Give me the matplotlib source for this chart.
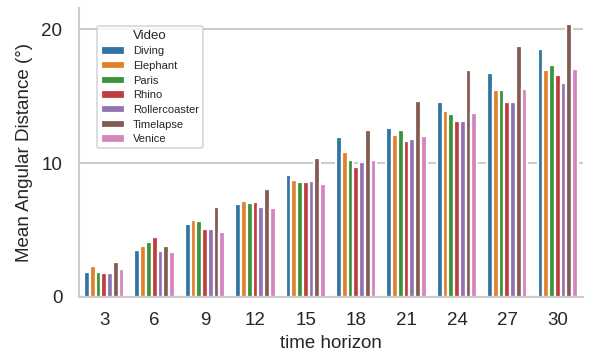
import matplotlib
matplotlib.use("Agg")
import matplotlib.pyplot as plt
import numpy as np

plt.rcParams['font.family'] = ['Liberation Sans', 'DejaVu Sans']

horizons = ["3", "6", "9", "12", "15", "18", "21", "24", "27", "30"]
videos = ["Diving", "Elephant", "Paris", "Rhino", "Rollercoaster", "Timelapse", "Venice"]

diving       = [1.89, 3.48, 5.45, 6.94, 9.13, 11.94, 12.63, 14.55, 16.75, 18.56]
elephant     = [2.30, 3.79, 5.75, 7.15, 8.70, 10.84, 12.09, 13.90, 15.43, 16.92]
paris        = [1.89, 4.10, 5.65, 6.98, 8.58, 10.20, 12.49, 13.69, 15.43, 17.30]
rhino        = [1.79, 4.46, 5.10, 7.08, 8.56, 9.70, 11.64, 13.18, 14.58, 16.60]
rollercoaster= [1.82, 3.46, 5.07, 6.75, 8.63, 10.07, 11.77, 13.18, 14.58, 15.95]
timelapse    = [2.59, 3.83, 6.74, 8.09, 10.40, 12.44, 14.65, 16.94, 18.78, 20.40]
venice       = [2.09, 3.38, 4.87, 6.66, 8.41, 10.20, 12.00, 13.76, 15.50, 17.05]

series = [diving, elephant, paris, rhino, rollercoaster, timelapse, venice]
colors = ['#3274a1', '#e1812c', '#3a923a', '#c03d3e', '#9372b2', '#845b53', '#d684bd']

fig = plt.figure(figsize=(5.9, 3.56), dpi=100)
ax = fig.add_axes([0.134, 0.166, 0.854, 0.812])

x = np.arange(len(horizons))
n = len(videos)
total = 0.8
w = total / n
for i, (name, vals, c) in enumerate(zip(videos, series, colors)):
    ax.bar(x - total / 2 + w * (i + 0.5), vals, width=w, color=c,
           edgecolor='white', linewidth=1.6, label=name, zorder=2)

ax.set_xlim(-0.5, len(horizons) - 0.5)
ax.set_ylim(0, 21.6)
ax.set_xticks(x)
ax.set_xticklabels(horizons)
ax.set_yticks([0, 10, 20])

ax.yaxis.grid(True, color='#cccccc', linewidth=1.5, zorder=0)
ax.xaxis.grid(False)
ax.set_axisbelow(True)
for s in ['top', 'right']:
    ax.spines[s].set_visible(False)
for s in ['left', 'bottom']:
    ax.spines[s].set_color('#cccccc')
    ax.spines[s].set_linewidth(1.5)

ax.tick_params(axis='x', length=0, labelsize=13.5, labelcolor='#262626', pad=11)
ax.tick_params(axis='y', length=0, labelsize=13.5, labelcolor='#262626', pad=12)
ax.set_xlabel('time horizon', fontsize=13.5, color='#262626', labelpad=4)
ax.set_ylabel('Mean Angular Distance (°)', fontsize=13.5, color='#262626', labelpad=6)

leg = ax.legend(title='Video', loc='upper left', bbox_to_anchor=(0.024, 0.957),
                fontsize=8, title_fontsize=9.5, frameon=True, fancybox=True,
                edgecolor='#cccccc', handlelength=2.2, handleheight=0.75,
                labelspacing=0.42, borderpad=0.35, handletextpad=0.7)
leg.get_frame().set_linewidth(1.2)
for t in leg.get_texts():
    t.set_color('#262626')
leg.get_title().set_color('#262626')

fig.savefig('out.png', dpi=100)
